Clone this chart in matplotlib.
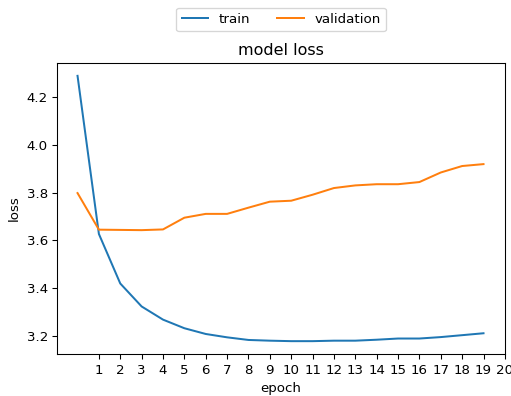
import matplotlib
matplotlib.use("Agg")
import matplotlib.pyplot as plt

epochs = list(range(20))
train_loss = [4.288, 3.627, 3.420, 3.324, 3.269, 3.233, 3.209, 3.195, 3.184, 3.181,
              3.179, 3.179, 3.181, 3.181, 3.185, 3.190, 3.190, 3.196, 3.204, 3.212]
val_loss = [3.798, 3.645, 3.644, 3.643, 3.646, 3.695, 3.711, 3.711, 3.737, 3.762,
            3.766, 3.791, 3.819, 3.830, 3.835, 3.835, 3.844, 3.884, 3.911, 3.919]
xtick_vals = list(range(1, 21))

dpi = 96
fig = plt.figure(figsize=(511/dpi, 396/dpi), dpi=dpi)
fig.subplots_adjust(left=0.112, right=0.988, top=0.842, bottom=0.105)
ax = fig.add_subplot(111)

ax.plot(epochs, train_loss, label='train')
ax.plot(epochs, val_loss, label='validation')
ax.set_title('model loss')
ax.set_ylabel('loss')
ax.set_xlabel('epoch')
ax.set_xticks(xtick_vals)
ax.legend(loc='center', bbox_to_anchor=(0.5, 1.148), ncol=2)

fig.savefig('out.png', dpi=dpi)
